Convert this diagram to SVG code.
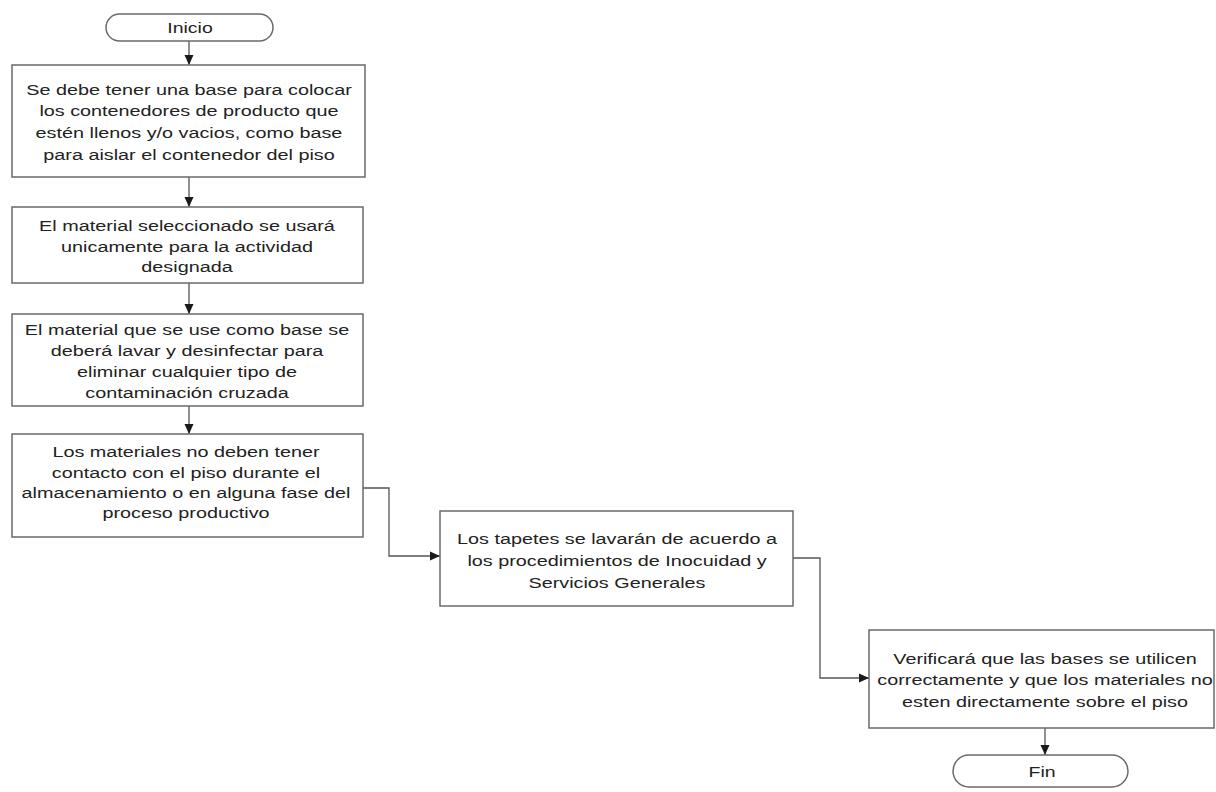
<svg xmlns="http://www.w3.org/2000/svg" width="1216" height="792" viewBox="0 0 1216 792">
<style>
.box{fill:#ffffff;stroke:#6a6a6a;stroke-width:1.5}
.t{font-family:"Liberation Sans",Arial,sans-serif;font-size:15px;fill:#222222;text-anchor:middle}
.c{fill:none;stroke:#555;stroke-width:1.3}
</style>
<defs>
<marker id="ah" markerUnits="userSpaceOnUse" markerWidth="12" markerHeight="12" refX="10" refY="5" orient="auto">
<path d="M0,0.5 L10,5 L0,9.5 z" fill="#1a1a1a"/>
</marker>
</defs>
<rect width="1216" height="792" fill="#ffffff"/>
<g id="connectors">
<line class="c" x1="189" y1="41" x2="189" y2="65" marker-end="url(#ah)"/>
<line class="c" x1="189" y1="177" x2="189" y2="207" marker-end="url(#ah)"/>
<line class="c" x1="189" y1="283" x2="189" y2="314" marker-end="url(#ah)"/>
<line class="c" x1="189" y1="406" x2="189" y2="434" marker-end="url(#ah)"/>
<polyline class="c" points="363,488 389,488 389,556 440,556" marker-end="url(#ah)"/>
<polyline class="c" points="793,558 820,558 820,678 869,678" marker-end="url(#ah)"/>
<line class="c" x1="1045" y1="728" x2="1045" y2="755" marker-end="url(#ah)"/>
</g>
<g id="inicio">
<rect class="box" x="106" y="14" width="167" height="27" rx="13.5"/>
<g transform="translate(190,0) scale(1.3,1)"><text class="t" x="0" y="33">Inicio</text></g>
</g>
<g id="paso1">
<rect class="box" x="12" y="65" width="353" height="112"/>
<g transform="translate(189,0) scale(1.32,1)">
<text class="t" x="0" y="95">Se debe tener una base para colocar</text>
<text class="t" x="0" y="116">los contenedores de producto que</text>
<text class="t" x="0" y="138">estén llenos y/o vacios, como base</text>
<text class="t" x="0" y="160">para aislar el contenedor del piso</text>
</g>
</g>
<g id="paso2">
<rect class="box" x="12" y="207" width="351" height="76"/>
<g transform="translate(187,0) scale(1.32,1)">
<text class="t" x="0" y="231">El material seleccionado se usará</text>
<text class="t" x="0" y="252">unicamente para la actividad</text>
<text class="t" x="0" y="272">designada</text>
</g>
</g>
<g id="paso3">
<rect class="box" x="12" y="314" width="351" height="92"/>
<g transform="translate(187,0) scale(1.32,1)">
<text class="t" x="0" y="335">El material que se use como base se</text>
<text class="t" x="0" y="356">deberá lavar y desinfectar para</text>
<text class="t" x="0" y="377">eliminar cualquier tipo de</text>
<text class="t" x="0" y="398">contaminación cruzada</text>
</g>
</g>
<g id="paso4">
<rect class="box" x="12" y="434" width="351" height="103"/>
<g transform="translate(186,0) scale(1.32,1)">
<text class="t" x="0" y="457">Los materiales no deben tener</text>
<text class="t" x="0" y="478">contacto con el piso  durante el</text>
<text class="t" x="0" y="498">almacenamiento o en alguna fase del</text>
<text class="t" x="0" y="518">proceso productivo</text>
</g>
</g>
<g id="paso5">
<rect class="box" x="440" y="511" width="353" height="95"/>
<g transform="translate(617,0) scale(1.32,1)">
<text class="t" x="0" y="544">Los tapetes se lavarán de acuerdo a</text>
<text class="t" x="0" y="566">los procedimientos de Inocuidad y</text>
<text class="t" x="0" y="588">Servicios Generales</text>
</g>
</g>
<g id="paso6">
<rect class="box" x="869" y="630" width="345" height="98"/>
<g transform="translate(1045,0) scale(1.32,1)">
<text class="t" x="0" y="664">Verificará que las bases se utilicen</text>
<text class="t" x="0" y="685">correctamente y que los materiales no</text>
<text class="t" x="0" y="707">esten directamente sobre el piso</text>
</g>
</g>
<g id="fin">
<rect class="box" x="953" y="755" width="175" height="32" rx="16"/>
<g transform="translate(1042,0) scale(1.3,1)"><text class="t" x="0" y="777">Fin</text></g>
</g>
</svg>
